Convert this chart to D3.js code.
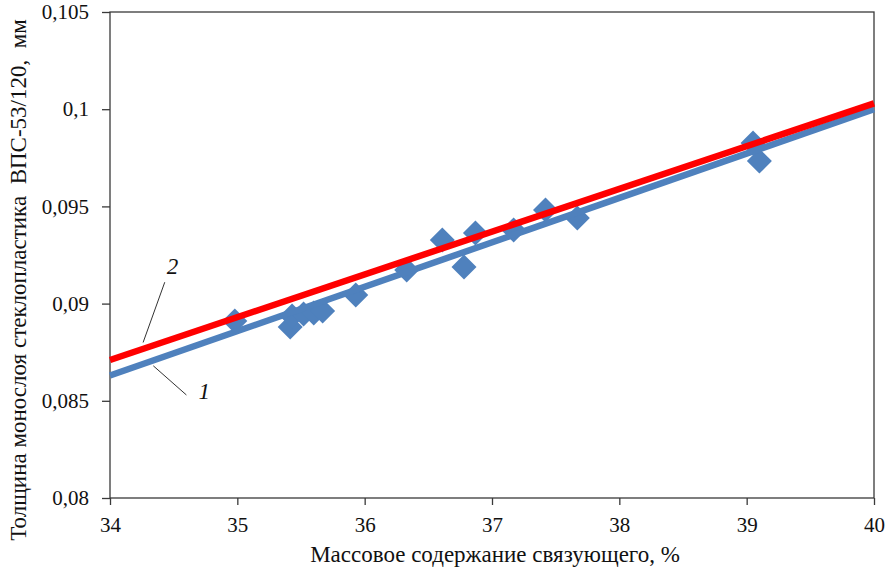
<!DOCTYPE html>
<html><head><meta charset="utf-8">
<script src="https://d3js.org/d3.v7.min.js"></script>
<style>body{margin:0;background:#fff}svg{display:block}
svg text{font-family:"Liberation Serif","Times New Roman",serif !important;}</style>
</head><body>
<svg id="c" width="887" height="573"></svg>
<script>
const xTicks = [34, 35, 36, 37, 38, 39, 40];
const yTicks = [0.08, 0.085, 0.09, 0.095, 0.1, 0.105];
const pointsX = [34.98, 35.415, 35.43, 35.52, 35.60, 35.67, 35.93, 36.33, 36.61, 36.78, 36.87, 37.17, 37.42, 37.67, 39.05, 39.10];
const pointsY = [0.0891, 0.0888, 0.08936, 0.08947, 0.08952, 0.08962, 0.09044, 0.09173, 0.09327, 0.09188, 0.09363, 0.09379, 0.09481, 0.0944, 0.09826, 0.09733];
const line1X = [34, 40];
const line1Y = [0.0863, 0.1000];
const line2X = [34, 40];
const line2Y = [0.0871, 0.1003];
const xTitle = "Массовое содержание связующего, %";
const yTitle = "Толщина монослоя стеклопластика  ВПС-53/120,  мм";

const svg = d3.select("#c");
const m = {l:110, r:874, t:12, b:498};
const x = d3.scaleLinear().domain([34,40]).range([m.l, m.r]);
const y = d3.scaleLinear().domain([0.08,0.105]).range([m.b, m.t]);
const fmt = d => String(+d.toFixed(3)).replace(".", ",");

svg.append("rect").attr("x", m.l).attr("y", m.t).attr("width", m.r-m.l).attr("height", m.b-m.t)
  .attr("fill","none").attr("stroke","#3a3a3a").attr("stroke-width",1.3);

const xa = svg.append("g").attr("transform",`translate(0,${m.b})`)
  .call(d3.axisBottom(x).tickValues(xTicks).tickSize(7).tickPadding(12).tickFormat(d=>d));
const ya = svg.append("g").attr("transform",`translate(${m.l},0)`)
  .call(d3.axisLeft(y).tickValues(yTicks).tickSize(8).tickPadding(13).tickFormat(fmt));
[xa, ya].forEach(a => {
  a.attr("font-size", 21);
  a.selectAll("path,line").attr("stroke","#3a3a3a").attr("stroke-width",1.3);
  a.selectAll("text").attr("font-size",21).attr("fill","#111");
});
ya.select(".domain").remove(); xa.select(".domain").remove();

const pts = pointsX.map((v,i)=>({x:v,y:pointsY[i]}));
const s = 12.5;
svg.append("g").selectAll("path").data(pts).join("path")
  .attr("d", d => { const cx=x(d.x), cy=y(d.y); return `M${cx},${cy-s}L${cx+s},${cy}L${cx},${cy+s}L${cx-s},${cy}Z`; })
  .attr("fill","#4f81bd");

const ln = d3.line().x(d=>x(d[0])).y(d=>y(d[1]));
svg.append("path").datum(line1X.map((v,i)=>[v,line1Y[i]])).attr("d",ln)
  .attr("stroke","#4f81bd").attr("stroke-width",6.5).attr("fill","none");
svg.append("path").datum(line2X.map((v,i)=>[v,line2Y[i]])).attr("d",ln)
  .attr("stroke","#ff0000").attr("stroke-width",6.5).attr("fill","none");

const lead = [
  {lx:34.43, ly:0.0911, px:34.26, py:0.0880, t:"2", tx:34.49, ty:0.0915},
  {lx:34.6, ly:0.0853, px:34.34, py:0.0868, t:"1", tx:34.74, ty:0.0851}
];
lead.forEach(o => {
  svg.append("line").attr("x1",x(o.lx)).attr("y1",y(o.ly)).attr("x2",x(o.px)).attr("y2",y(o.py))
    .attr("stroke","#333").attr("stroke-width",1);
  svg.append("text").attr("x",x(o.tx)).attr("y",y(o.ty)).attr("text-anchor","middle")
    .attr("font-style","italic").attr("font-size",23).attr("fill","#111").text(o.t);
});

svg.append("text").attr("x",495).attr("y",562).attr("text-anchor","middle")
  .attr("font-size",23).attr("fill","#111").text(xTitle);
svg.append("text").attr("transform",`translate(26,280) rotate(-90)`).attr("text-anchor","middle")
  .attr("font-size",23).attr("fill","#111")
  .style("white-space","pre").text(yTitle);
</script>
</body></html>
